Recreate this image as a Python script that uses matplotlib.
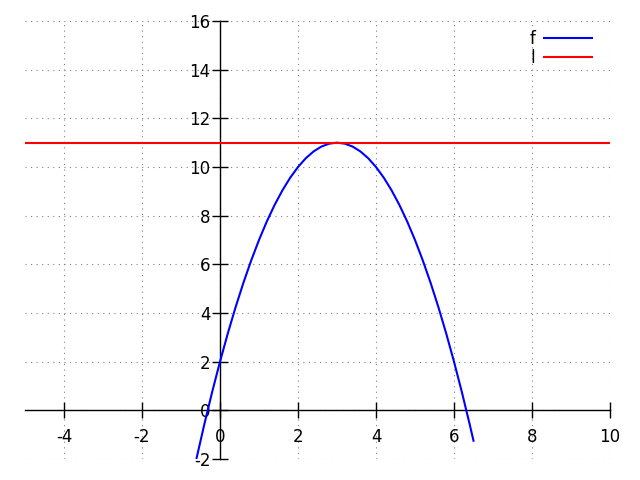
import matplotlib
matplotlib.use('Agg')
import matplotlib.pyplot as plt

plt.rcParams['axes.unicode_minus'] = False

# values
f_x = [-0.6, -0.4, -0.2, 0, 0.2, 0.4, 0.6, 0.8, 1.0, 1.2, 1.4, 1.6, 1.8, 2.0,
       2.2, 2.4, 2.6, 2.8, 3.0, 3.2, 3.4, 3.6, 3.8, 4.0, 4.2, 4.4, 4.6, 4.8,
       5.0, 5.2, 5.4, 5.6, 5.8, 6.0, 6.2, 6.4, 6.5]
f_y = [-1.96, -0.56, 0.76, 2, 3.16, 4.24, 5.24, 6.16, 7, 7.76, 8.44, 9.04,
       9.56, 10, 10.36, 10.64, 10.84, 10.96, 11, 10.96, 10.84, 10.64, 10.36,
       10, 9.56, 9.04, 8.44, 7.76, 7, 6.16, 5.24, 4.24, 3.16, 2, 0.76, -0.56,
       -1.25]
l_x = [-5, 10]
l_y = [11, 11]
x_ticks = [-4, -2, 0, 2, 4, 6, 8, 10]
y_ticks = [-2, 0, 2, 4, 6, 8, 10, 12, 14, 16]

fig = plt.figure(figsize=(6.4, 4.8), dpi=100)
ax = fig.add_axes([25 / 640, 1 - 459 / 480, 585 / 640, 438 / 480])

ax.plot(f_x, f_y, color='blue', lw=1.5, label='f', zorder=3)
ax.plot(l_x, l_y, color='red', lw=1.5, label='l', zorder=3)

ax.set_xlim(-5, 10)
ax.set_ylim(-2, 16)
ax.set_xticks(x_ticks)
ax.set_yticks(y_ticks)

# axes through the origin
ax.spines['left'].set_position(('data', 0))
ax.spines['bottom'].set_position(('data', 0))
ax.spines['top'].set_visible(False)
ax.spines['right'].set_visible(False)
for s in ('left', 'bottom'):
    ax.spines[s].set_linewidth(1.0)

ax.tick_params(direction='inout', length=12, width=1.0, labelsize=12)
ax.tick_params(axis='x', pad=7)
ax.tick_params(axis='y', pad=1)

ax.grid(True, color='gray', linestyle=(0, (1, 4)), linewidth=0.8)
ax.set_axisbelow(True)

ax.legend(loc='upper right', bbox_to_anchor=(1 - 9 / 585, 1), frameon=False,
          markerfirst=False, fontsize=12, handlelength=2.9, handletextpad=0.5,
          borderaxespad=0.15, labelspacing=0.02)

fig.savefig('out.png', dpi=100)
